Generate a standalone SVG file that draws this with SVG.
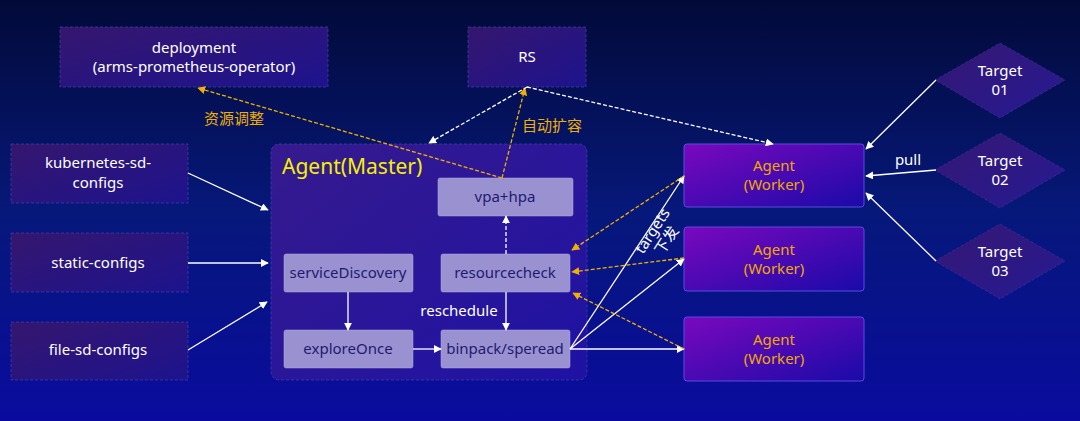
<svg xmlns="http://www.w3.org/2000/svg" width="1080" height="421" viewBox="0 0 1080 421">
<defs>
<linearGradient id="bg" x1="0" y1="0" x2="0" y2="1">
<stop offset="0" stop-color="#020a38"/>
<stop offset="0.5" stop-color="#06187a"/>
<stop offset="1" stop-color="#0a0b9e"/>
</linearGradient>
<linearGradient id="boxg" x1="0" y1="0" x2="1" y2="1">
<stop offset="0" stop-color="#35166e"/>
<stop offset="1" stop-color="#1d138e"/>
</linearGradient>
<linearGradient id="masterg" x1="0" y1="0" x2="1" y2="1">
<stop offset="0" stop-color="#361a8e"/>
<stop offset="1" stop-color="#1e12a4"/>
</linearGradient>
<linearGradient id="workerg" x1="0" y1="0" x2="1" y2="1">
<stop offset="0" stop-color="#7a08be"/>
<stop offset="1" stop-color="#1a0aa8"/>
</linearGradient>
<linearGradient id="diag" x1="0" y1="0" x2="1" y2="1">
<stop offset="0" stop-color="#361772"/>
<stop offset="1" stop-color="#251a94"/>
</linearGradient>
<marker id="aw" viewBox="0 0 10 10" refX="9" refY="5" markerWidth="8" markerHeight="8" markerUnits="userSpaceOnUse" orient="auto">
<path d="M0,0 L10,5 L0,10 z" fill="#ffffff"/>
</marker>
<marker id="ao" viewBox="0 0 10 10" refX="9" refY="5" markerWidth="8" markerHeight="8" markerUnits="userSpaceOnUse" orient="auto">
<path d="M0,0 L10,5 L0,10 z" fill="#f0b000"/>
</marker>
<style>
text{font-family:"Noto Sans","Open Sans","Noto Sans CJK SC",sans-serif;}
.box{fill:url(#boxg);stroke:#4a4aa8;stroke-opacity:0.6;stroke-width:1;stroke-dasharray:3 2;}
.bt{fill:#ffffff;font-size:15px;text-anchor:middle;}
.inner{fill:#9a92d0;stroke:#b0a8e0;stroke-width:0.5;}
.it{fill:#1e1a70;font-size:15px;text-anchor:middle;}
.worker{fill:url(#workerg);stroke:#5a4ae0;stroke-width:1;}
.wt{fill:#f0a800;font-size:15px;text-anchor:middle;}
.dia{fill:url(#diag);stroke:#4a3aa0;stroke-opacity:0.6;stroke-width:0.8;stroke-dasharray:3 2;}
.w{stroke:#ffffff;stroke-width:1.3;fill:none;marker-end:url(#aw);}
.wd{stroke:#ffffff;stroke-width:1.3;fill:none;stroke-dasharray:4 2;marker-end:url(#aw);}
.od{stroke:#f0b000;stroke-width:1.3;fill:none;stroke-dasharray:4 2;marker-end:url(#ao);}
.ol{fill:#f0b000;font-size:15px;text-anchor:middle;}
.lt{fill:#ffffff;font-size:15px;text-anchor:middle;}
</style>
</defs>
<rect x="0" y="0" width="1080" height="421" fill="url(#bg)"/>

<g id="deployment">
<rect class="box" x="60" y="27" width="268" height="60"/>
<text class="bt" x="194" y="53">deployment</text>
<text class="bt" x="194" y="72">(arms-prometheus-operator)</text>
</g>
<g id="rs">
<rect class="box" x="468" y="27" width="118" height="60"/>
<text class="bt" x="527" y="62">RS</text>
</g>
<g id="kubernetes-sd-configs">
<rect class="box" x="11" y="144" width="177" height="59"/>
<text class="bt" x="98" y="168">kubernetes-sd-</text>
<text class="bt" x="98" y="188">configs</text>
</g>
<g id="static-configs">
<rect class="box" x="11" y="233" width="177" height="59"/>
<text class="bt" x="98" y="268">static-configs</text>
</g>
<g id="file-sd-configs">
<rect class="box" x="11" y="322" width="177" height="58"/>
<text class="bt" x="98" y="355">file-sd-configs</text>
</g>

<g id="agent-master">
<rect x="271" y="144" width="316" height="236" rx="8" fill="url(#masterg)" stroke="#4a4ab0" stroke-opacity="0.6" stroke-width="1" stroke-dasharray="3 2"/>
<text x="282" y="174" fill="#f5f000" font-size="21">Agent(Master)</text>
</g>
<g id="vpa-hpa">
<rect class="inner" x="438" y="178" width="135" height="38" rx="2"/>
<text class="it" x="505" y="202">vpa+hpa</text>
</g>
<g id="serviceDiscovery">
<rect class="inner" x="284" y="254" width="129" height="38" rx="2"/>
<text class="it" x="348" y="278">serviceDiscovery</text>
</g>
<g id="resourcecheck">
<rect class="inner" x="441" y="254" width="129" height="38" rx="2"/>
<text class="it" x="505" y="278">resourcecheck</text>
</g>
<g id="exploreOnce">
<rect class="inner" x="284" y="330" width="129" height="38" rx="2"/>
<text class="it" x="348" y="354">exploreOnce</text>
</g>
<g id="binpack">
<rect class="inner" x="441" y="330" width="129" height="38" rx="2"/>
<text class="it" x="505" y="354">binpack/speread</text>
</g>

<g id="worker1">
<rect class="worker" x="684" y="144" width="180" height="63" rx="3"/>
<text class="wt" x="774" y="171">Agent</text>
<text class="wt" x="774" y="190">(Worker)</text>
</g>
<g id="worker2">
<rect class="worker" x="684" y="227" width="180" height="64" rx="3"/>
<text class="wt" x="774" y="255">Agent</text>
<text class="wt" x="774" y="274">(Worker)</text>
</g>
<g id="worker3">
<rect class="worker" x="684" y="317" width="180" height="64" rx="3"/>
<text class="wt" x="774" y="345">Agent</text>
<text class="wt" x="774" y="364">(Worker)</text>
</g>

<g id="target01">
<polygon class="dia" points="1000,43 1065,80 1000,118 935,80"/>
<text class="bt" x="1000" y="76">Target</text>
<text class="bt" x="1000" y="95">01</text>
</g>
<g id="target02">
<polygon class="dia" points="1000,133 1065,170 1000,208 935,170"/>
<text class="bt" x="1000" y="166">Target</text>
<text class="bt" x="1000" y="185">02</text>
</g>
<g id="target03">
<polygon class="dia" points="1000,224 1065,261 1000,299 935,261"/>
<text class="bt" x="1000" y="257">Target</text>
<text class="bt" x="1000" y="276">03</text>
</g>

<g id="connectors">
<line class="w" x1="188" y1="173" x2="268" y2="210"/>
<line class="w" x1="188" y1="263" x2="268" y2="263"/>
<line class="w" x1="188" y1="350" x2="267" y2="302"/>
<line class="w" x1="348" y1="292" x2="348" y2="330"/>
<line class="w" x1="413" y1="349" x2="441" y2="349"/>
<line class="w" x1="506" y1="292" x2="506" y2="330"/>
<line class="wd" x1="506" y1="254" x2="506" y2="216"/>
<line class="w" x1="570" y1="349" x2="684" y2="176"/>
<line class="w" x1="570" y1="349" x2="684" y2="259"/>
<line class="w" x1="570" y1="349" x2="684" y2="349"/>
<line class="od" x1="684" y1="176" x2="572" y2="250"/>
<line class="od" x1="684" y1="258" x2="572" y2="272"/>
<line class="od" x1="684" y1="349" x2="573" y2="293"/>
<line class="od" x1="502" y1="178" x2="198" y2="88"/>
<line class="od" x1="502" y1="178" x2="525" y2="88"/>
<line class="wd" x1="527" y1="87" x2="429" y2="143"/>
<line class="wd" x1="527" y1="87" x2="773" y2="144"/>
<line class="w" x1="936" y1="80" x2="866" y2="149"/>
<line class="w" x1="936" y1="170" x2="866" y2="176"/>
<line class="w" x1="936" y1="261" x2="866" y2="193"/>
<text class="ol" x="234" y="124">资源调整</text>
<text class="ol" x="552" y="131">自动扩容</text>
<text class="lt" x="459" y="316">reschedule</text>
<text class="lt" x="908" y="165">pull</text>
<g transform="translate(660,236) rotate(-57)">
<text class="lt" x="0" y="-4">targets</text>
<text class="lt" x="0" y="13">下发</text>
</g>
</g>
</svg>
